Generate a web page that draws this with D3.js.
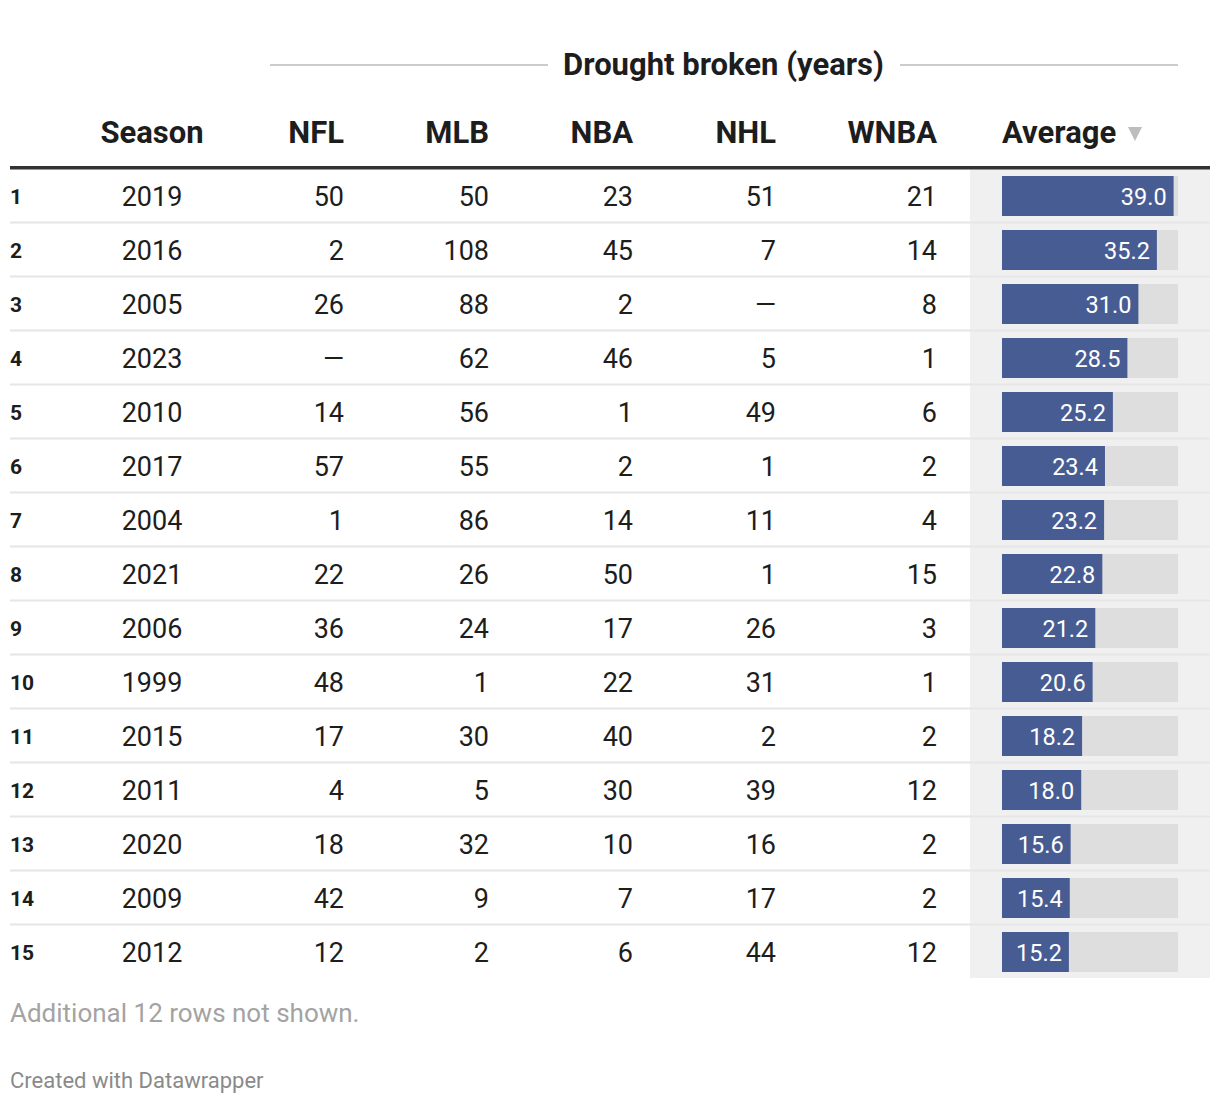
<!DOCTYPE html>
<html>
<head>
<meta charset="utf-8">
<script src="https://cdn.jsdelivr.net/npm/d3@7"></script>
<style>
  html, body { margin: 0; padding: 0; background: #fff; }
  svg { display: block; font-family: Roboto, "Noto Sans", sans-serif; }
</style>
</head>
<body>
<svg id="chart" width="1220" height="1104"></svg>
<script>
// ---- data ----
const ranks   = [1, 2, 3, 4, 5, 6, 7, 8, 9, 10, 11, 12, 13, 14, 15];
const seasons = [2019, 2016, 2005, 2023, 2010, 2017, 2004, 2021, 2006, 1999, 2015, 2011, 2020, 2009, 2012];
const nfl     = [50, 2, 26, null, 14, 57, 1, 22, 36, 48, 17, 4, 18, 42, 12];
const mlb     = [50, 108, 88, 62, 56, 55, 86, 26, 24, 1, 30, 5, 32, 9, 2];
const nba     = [23, 45, 2, 46, 1, 2, 14, 50, 17, 22, 40, 30, 10, 7, 6];
const nhl     = [51, 7, null, 5, 49, 1, 11, 1, 26, 31, 2, 39, 16, 17, 44];
const wnba    = [21, 14, 8, 1, 6, 2, 4, 15, 3, 1, 2, 12, 2, 2, 12];
const average = [39.0, 35.2, 31.0, 28.5, 25.2, 23.4, 23.2, 22.8, 21.2, 20.6, 18.2, 18.0, 15.6, 15.4, 15.2];
const leagues = ["NFL", "MLB", "NBA", "NHL", "WNBA"];
const leagueValues = [nfl, mlb, nba, nhl, wnba];
const spannerTitle = "Drought broken (years)";
const notShownNote = "Additional 12 rows not shown.";
const credit = "Created with Datawrapper";

// ---- layout ----
const svg = d3.select("#chart");
const tableLeft = 10, tableRight = 1210;
const rowTop = 169, rowH = 54;
const y = d3.scaleBand().domain(d3.range(ranks.length)).range([rowTop, rowTop + rowH * ranks.length]);
const leagueRight = [344, 489, 633, 776, 937];
const seasonCenter = 152;
const avgBgLeft = 970, barLeft = 1002, barWidth = 176;
const x = d3.scaleLinear().domain([0, 40]).range([0, barWidth]);

const textColor = "#1d1d1d";
const headSize = 31;

// average column background
svg.append("rect")
  .attr("x", avgBgLeft).attr("y", rowTop)
  .attr("width", tableRight - avgBgLeft).attr("height", rowH * ranks.length - 1)
  .attr("fill", "#f0f0f0");

// row separators
svg.selectAll("line.sep").data(d3.range(ranks.length - 1)).join("line")
  .attr("class", "sep")
  .attr("x1", tableLeft).attr("x2", tableRight)
  .attr("y1", i => y(i) + rowH - 0.5).attr("y2", i => y(i) + rowH - 0.5)
  .attr("stroke", "#e6e6e6").attr("stroke-width", 2);

// header thick line
svg.append("rect").attr("x", tableLeft).attr("y", 166).attr("width", tableRight - tableLeft).attr("height", 3.5).attr("fill", "#333");

// spanner
svg.append("text").attr("x", 723.5).attr("y", 64).attr("text-anchor", "middle").attr("dominant-baseline", "central")
  .attr("font-size", headSize).attr("font-weight", 700).attr("fill", textColor).text(spannerTitle);
svg.append("line").attr("x1", 270).attr("x2", 548).attr("y1", 65).attr("y2", 65).attr("stroke", "#cccccc").attr("stroke-width", 2);
svg.append("line").attr("x1", 900).attr("x2", 1178).attr("y1", 65).attr("y2", 65).attr("stroke", "#cccccc").attr("stroke-width", 2);

// column headers
const headerY = 132;
svg.append("text").attr("x", seasonCenter).attr("y", headerY).attr("text-anchor", "middle").attr("dominant-baseline", "central")
  .attr("font-size", headSize).attr("font-weight", 700).attr("fill", textColor).text("Season");
svg.selectAll("text.lh").data(leagues).join("text").attr("class", "lh")
  .attr("x", (d, i) => leagueRight[i]).attr("y", headerY).attr("text-anchor", "end").attr("dominant-baseline", "central")
  .attr("font-size", headSize).attr("font-weight", 700).attr("fill", textColor).text(d => d);
svg.append("text").attr("x", barLeft).attr("y", headerY).attr("dominant-baseline", "central")
  .attr("font-size", headSize).attr("font-weight", 700).attr("fill", textColor).text("Average");
svg.append("path").attr("d", "M1128,127 L1142,127 L1135,141 Z").attr("fill", "#bdbdbd");

// rows
const rows = svg.selectAll("g.row").data(ranks).join("g").attr("class", "row")
  .attr("transform", (d, i) => `translate(0,${y(i) + 27})`);

rows.append("text").attr("x", tableLeft).attr("y", 1).attr("dominant-baseline", "central")
  .attr("font-size", 21).attr("font-weight", 700).attr("fill", textColor).text(d => d);

rows.append("text").attr("x", seasonCenter).attr("y", 1).attr("text-anchor", "middle").attr("dominant-baseline", "central")
  .attr("font-size", 27).attr("fill", textColor).text((d, i) => seasons[i]);

leagueValues.forEach((vals, c) => {
  rows.append("text").attr("x", leagueRight[c]).attr("y", 1).attr("text-anchor", "end").attr("dominant-baseline", "central")
    .attr("font-size", 27).attr("fill", textColor)
    .text((d, i) => vals[i] == null ? "—" : vals[i]);
});

// bars
rows.append("rect").attr("x", barLeft).attr("y", -20).attr("width", x(40)).attr("height", 40).attr("fill", "#dedede");
rows.append("rect").attr("x", barLeft).attr("y", -20).attr("width", (d, i) => x(average[i])).attr("height", 40).attr("fill", "#485c94");
rows.append("text").attr("x", (d, i) => barLeft + x(average[i]) - 7).attr("y", 0.5).attr("text-anchor", "end").attr("dominant-baseline", "central")
  .attr("font-size", 23.5).attr("fill", "#ffffff").text((d, i) => average[i].toFixed(1));

// footer
svg.append("text").attr("x", tableLeft).attr("y", 1013).attr("dominant-baseline", "central")
  .attr("font-size", 26).attr("fill", "#a3a3a3").text(notShownNote);
svg.append("text").attr("x", tableLeft).attr("y", 1080).attr("dominant-baseline", "central")
  .attr("font-size", 22).attr("fill", "#8a8a8a").text(credit);
</script>
</body>
</html>
